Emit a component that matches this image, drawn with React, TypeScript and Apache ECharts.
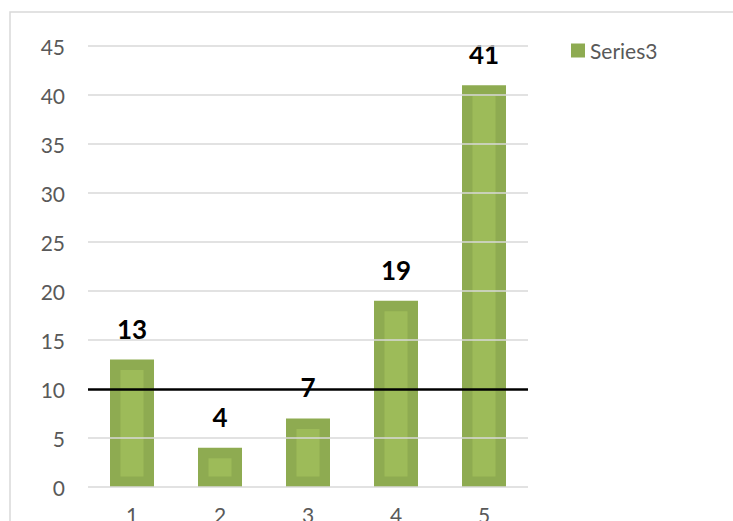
import React, { useEffect, useRef } from "react";
import * as echarts from "echarts";

const categories = ["1", "2", "3", "4", "5"];
const seriesName = "Series3";
const values = [13, 4, 7, 19, 41];
const thresholdValue = 10;
const yMin = 0;
const yMax = 45;
const yInterval = 5;

const OUTER = "#8eab51";
const INNER = "#9dbb59";
const GRID = "#d9d9d9";
const FONT = "Lato, 'Open Sans', sans-serif";

const tickValues: number[] = [];
for (let t = yMin; t <= yMax; t += yInterval) tickValues.push(t);

export default function App() {
  const ref = useRef<HTMLDivElement>(null);
  useEffect(() => {
    if (!ref.current) return;
    const chart = echarts.init(ref.current, null, { renderer: "svg" });
    chart.setOption({
      animation: false,
      backgroundColor: "#ffffff",
      textStyle: { fontFamily: FONT },
      graphic: [
        {
          type: "rect",
          shape: { x: 10, y: 12, width: 800, height: 600 },
          style: { fill: "none", stroke: GRID, lineWidth: 1.5 },
          silent: true,
          z: 100,
        },
      ],
      legend: {
        left: 571,
        top: 40,
        padding: 0,
        itemWidth: 14,
        itemHeight: 14,
        itemGap: 10,
        icon: "rect",
        data: [{ name: seriesName, itemStyle: { color: OUTER } }],
        textStyle: { color: "#595959", fontSize: 21, fontFamily: FONT, lineHeight: 21 },
      },
      grid: {
        left: 88,
        right: 205,
        top: 46,
        bottom: 34,
        containLabel: false,
        outerBoundsMode: "none",
      },
      xAxis: {
        type: "category",
        data: categories,
        axisLine: { show: false },
        axisTick: { show: false },
        axisLabel: { color: "#595959", fontSize: 21, fontFamily: FONT, margin: 17 },
        splitLine: { show: false },
      },
      yAxis: {
        type: "value",
        min: yMin,
        max: yMax,
        interval: yInterval,
        axisLine: { show: false },
        axisTick: { show: false },
        axisLabel: { color: "#595959", fontSize: 21, fontFamily: FONT, margin: 23 },
        splitLine: { show: false },
      },
      series: [
        {
          name: seriesName,
          type: "custom",
          z: 2,
          itemStyle: { color: OUTER },
          encode: { x: 0, y: 1 },
          data: values.map((v, i) => [i, v]),
          renderItem: (params: any, api: any) => {
            const idx = api.value(0);
            const v = api.value(1);
            const top = api.coord([idx, v]);
            const base = api.coord([idx, 0]);
            const band = api.size([1, 0])[0];
            const w = band * 0.5;
            const x = top[0] - w / 2;
            const h = base[1] - top[1];
            const inset = 10.5;
            return {
              type: "group",
              children: [
                {
                  type: "rect",
                  shape: { x, y: top[1], width: w, height: h },
                  style: { fill: OUTER },
                },
                {
                  type: "rect",
                  shape: {
                    x: x + inset,
                    y: top[1] + inset,
                    width: w - 2 * inset,
                    height: Math.max(0, h - 2 * inset),
                  },
                  style: { fill: INNER },
                },
                {
                  type: "text",
                  z2: 100,
                  style: {
                    text: String(v),
                    x: top[0],
                    y: top[1] - 31,
                    align: "center",
                    verticalAlign: "middle",
                    fontSize: 26,
                    fontWeight: "bold",
                    fontFamily: FONT,
                    fill: "#000000",
                  },
                },
              ],
            };
          },
        },
        {
          name: "gridlines",
          type: "line",
          z: 5,
          data: categories.map(() => null),
          showSymbol: false,
          lineStyle: { opacity: 0 },
          markLine: {
            silent: true,
            symbol: ["none", "none"],
            label: { show: false },
            lineStyle: { color: GRID, width: 1.5, type: "solid" },
            data: tickValues
              .filter((t) => t !== thresholdValue)
              .map((t) => ({ yAxis: t })),
          },
        },
        {
          name: "threshold",
          type: "line",
          z: 10,
          data: categories.map(() => null),
          showSymbol: false,
          lineStyle: { opacity: 0 },
          markLine: {
            silent: true,
            symbol: ["none", "none"],
            label: { show: false },
            lineStyle: { color: "#000000", width: 2.5, type: "solid" },
            data: [{ yAxis: thresholdValue }],
          },
        },
      ],
    });
    return () => chart.dispose();
  }, []);
  return (
    <div
      ref={ref}
      style={{ position: "fixed", left: 0, top: 0, width: 733, height: 521 }}
    />
  );
}
